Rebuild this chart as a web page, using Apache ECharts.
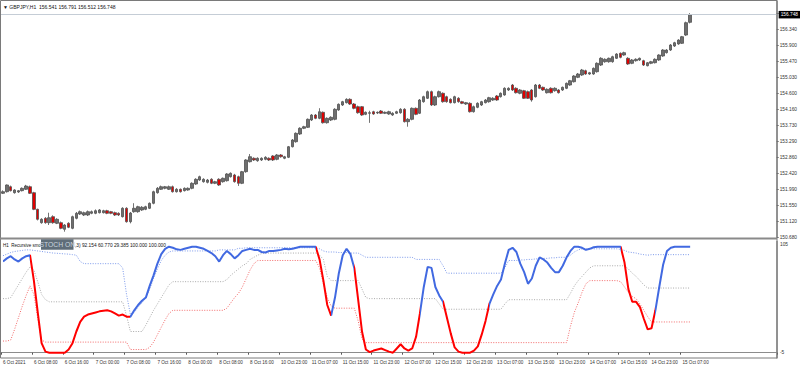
<!DOCTYPE html>
<html><head><meta charset="utf-8">
<script src="https://cdn.jsdelivr.net/npm/echarts@6/dist/echarts.min.js"></script>
<style>html,body{margin:0;padding:0;background:#fff}#c{width:800px;height:369px}</style>
</head><body><div id="c"></div>
<script>
// ---- bar sessions (start time, number of hourly bars) ----
const sessions = [[2021, 9, 6, 0, 72], [2021, 9, 10, 23, 107]];
const totalSlots = 201;   // bars + empty right margin (chart shift)

// ---- OHLC ----
const open = [151.880,151.923,152.059,151.896,151.915,151.951,151.989,152.059,151.896,151.443,
151.078,151.198,151.078,151.242,151.062,151.078,150.898,151.062,150.925,151.198,
151.315,151.288,151.288,151.334,151.334,151.351,151.351,151.405,151.378,151.351,
151.334,151.242,151.471,151.105,151.378,151.378,151.425,151.443,151.471,151.607,
151.896,151.989,152.016,151.989,152.059,151.923,151.989,151.951,151.970,152.016,
152.133,152.242,152.196,152.179,152.261,152.152,152.261,152.196,152.223,152.332,
152.379,152.332,152.152,152.469,152.741,152.834,152.768,152.788,152.807,152.834,
152.897,152.807,152.924,152.834,152.861,153.150,153.286,153.496,153.652,153.679,
153.878,154.014,153.924,154.088,153.804,153.878,153.897,154.151,154.287,154.350,
154.442,154.314,154.241,154.241,154.033,154.061,154.104,154.069,154.123,154.061,
154.042,154.014,154.061,154.077,154.170,153.832,153.897,154.197,154.061,154.377,
154.470,154.650,154.287,154.513,154.606,154.513,154.442,154.350,154.470,154.377,
154.314,154.333,154.104,154.224,154.287,154.350,154.377,154.423,154.532,154.513,
154.560,154.696,154.832,154.742,154.606,154.677,154.650,154.696,154.513,154.832,
154.769,154.622,154.742,154.677,154.696,154.696,154.742,154.832,154.922,155.042,
155.105,155.222,155.132,155.132,155.195,155.377,155.467,155.467,155.467,155.560,
155.696,155.650,155.560,155.424,155.495,155.514,155.495,155.358,155.424,155.440,
155.514,155.623,155.713,155.786,155.895,155.950,155.969,156.195,156.541];
const high = [151.96,152.12,152.09,151.99,151.97,152.04,152.11,152.09,151.92,151.46,
151.20,151.23,151.35,151.28,151.20,151.11,151.04,151.09,151.27,151.37,
151.41,151.38,151.41,151.41,151.44,151.45,151.43,151.43,151.40,151.38,
151.36,151.50,151.50,151.37,151.61,151.54,151.53,151.54,151.63,151.95,
152.05,152.09,152.08,152.09,152.09,152.02,152.01,152.04,152.04,152.18,
152.29,152.36,152.29,152.27,152.29,152.22,152.29,152.31,152.43,152.45,
152.41,152.36,152.49,152.81,152.95,152.86,152.86,152.86,152.89,152.86,
152.92,152.95,152.95,152.90,153.17,153.36,153.54,153.68,153.72,153.92,
154.04,154.04,154.20,154.11,153.95,153.98,154.20,154.33,154.40,154.47,
154.47,154.34,154.27,154.26,154.11,154.13,154.13,154.11,154.15,154.11,
154.13,154.09,154.13,154.20,154.20,153.93,154.22,154.22,154.45,154.54,
154.68,154.68,154.54,154.68,154.63,154.54,154.47,154.54,154.50,154.40,
154.37,154.36,154.27,154.36,154.40,154.45,154.51,154.50,154.56,154.63,
154.77,154.77,154.86,154.77,154.72,154.70,154.68,154.72,154.86,154.86,
154.79,154.74,154.77,154.77,154.72,154.79,154.90,154.97,155.10,155.16,
155.27,155.25,155.19,155.31,155.45,155.59,155.56,155.58,155.63,155.70,
155.72,155.74,155.59,155.54,155.56,155.58,155.52,155.46,155.49,155.56,
155.67,155.81,155.81,155.95,156.01,156.08,156.17,156.56,156.791];
const low = [151.86,151.90,151.93,151.87,151.89,151.93,151.97,151.86,151.42,151.14,
151.05,151.05,151.015,151.05,151.04,150.90,150.833,150.93,150.90,151.17,
151.29,151.26,151.26,151.31,151.31,151.33,151.33,151.31,151.31,151.26,
151.26,151.22,151.08,151.06,151.35,151.35,151.40,151.42,151.45,151.58,
151.87,151.97,151.99,151.97,151.90,151.90,151.90,151.93,151.95,151.99,
152.11,152.22,152.17,152.15,152.13,152.13,152.08,152.17,152.20,152.31,
152.17,152.08,152.13,152.44,152.72,152.76,152.74,152.76,152.78,152.76,
152.76,152.78,152.85,152.81,152.84,153.13,153.26,153.47,153.63,153.66,
153.85,153.90,153.90,153.78,153.78,153.85,153.87,154.13,154.26,154.33,
154.29,154.17,154.05,153.99,154.01,153.80,154.02,154.04,154.04,154.04,
154.02,153.99,154.04,154.05,153.81,153.695,153.87,154.01,154.04,154.35,
154.45,154.26,154.26,154.49,154.35,154.35,154.33,154.33,154.35,154.31,
154.29,154.08,154.08,154.20,154.26,154.33,154.35,154.40,154.40,154.49,
154.54,154.67,154.67,154.60,154.58,154.45,154.45,154.377,154.49,154.72,
154.67,154.60,154.60,154.65,154.60,154.67,154.72,154.81,154.90,155.02,
155.08,155.11,155.11,155.11,155.17,155.35,155.44,155.44,155.44,155.54,
155.56,155.63,155.38,155.40,155.47,155.49,155.35,155.34,155.40,155.42,
155.49,155.60,155.69,155.76,155.87,155.93,155.95,156.17,156.512];
const close = [151.923,152.106,151.951,151.970,151.951,152.016,152.078,151.880,151.443,151.171,
151.171,151.078,151.214,151.078,151.171,150.925,151.015,150.953,151.242,151.334,
151.378,151.351,151.378,151.378,151.405,151.425,151.405,151.334,151.334,151.288,
151.288,151.471,151.105,151.342,151.471,151.514,151.498,151.514,151.607,151.923,
152.016,152.059,152.059,152.059,151.923,151.989,151.923,152.016,152.016,152.152,
152.261,152.332,152.261,152.242,152.152,152.196,152.106,152.289,152.406,152.425,
152.196,152.152,152.469,152.788,152.877,152.788,152.834,152.834,152.861,152.788,
152.788,152.924,152.877,152.877,153.150,153.333,153.515,153.652,153.695,153.897,
154.014,153.924,154.104,153.804,153.924,153.952,154.170,154.306,154.377,154.442,
154.314,154.197,154.077,154.014,154.088,154.077,154.042,154.088,154.061,154.088,
154.104,154.061,154.104,154.170,153.832,153.897,154.197,154.033,154.423,154.513,
154.650,154.287,154.513,154.650,154.377,154.377,154.350,154.513,154.377,154.333,
154.350,154.104,154.241,154.333,154.377,154.423,154.486,154.470,154.423,154.606,
154.742,154.742,154.696,154.622,154.696,154.470,154.470,154.423,154.832,154.742,
154.696,154.715,154.622,154.742,154.622,154.769,154.878,154.949,155.077,155.132,
155.241,155.132,155.167,155.287,155.424,155.560,155.533,155.560,155.604,155.677,
155.587,155.713,155.405,155.514,155.533,155.560,155.377,155.440,155.467,155.533,
155.650,155.786,155.786,155.923,155.985,156.059,156.149,156.531,156.748];

// ---- indicator ----
const osc = [86,89,91,88,86,89,91,92,68,38,
9,1,0,0,0,0,0,3,9,20,
29,34,36,37,38,39,39.5,40,39,37,
35,36,34,34,40,45,49,52,63,73,
84,93,98,100,99,97.5,97,98,99,100,
100,99,98,96,94,91,86,92,96,93,
89,92,96,97,98,97,97,95,94.5,96,
96,96.5,97,98,97.5,98,99,100,100,100,
100,100,88,68,45,35,52,75,92,98,
93,80,50,20,3,0.5,2,3,4,2.5,
1,0,4,8,4,2,4,15,37,62,
81,80,62,54,48,33,18,5,1,0,
0,0,2,6,17,30,46,55,63,69,
84,97,99,95,84,76,65,70,82,90,
88,85,80,76,76,82,90,96,100,100,
99,97,98,99.5,100,100,100,100,100,100,
100,85,60,48,48,43,32,22,23,40,
62,83,96,99,100,100,100,100,100];
const upperBand = [91.5,93,94.5,95.5,96,96.5,97,97,96.5,96,
95.5,95,94.5,94,93.8,93.5,93.2,93,92.5,92,
86,84,84,84,84,84,84,84,84,84,
84,80,55,36,38,43,47,52,60,70,
79,87,92,95,96,96,96,96,96,96,
96,96,96,96,96,96,97,97,97,97,
97,98.5,98.5,99,99,99,99,99,99,99,
99,99,99,99,99,99,99,99,99,99,
99,99,98,96,95,95,95,94.5,94.5,94.5,
94,94,94,92,90,90,90,90,90,90,
90,90,90,90,90,90,90,88,88,88,
88,88,88,88,82,75,75,75,75,75,
75,75,75,75,75,75,75,75,75,75,
80,87,87,87,87.5,87.5,88,88,88.5,88.5,
89,89,89.5,89.5,90,90,90,92,95,97,
98,98,98,98,98,98,98,98,98,98,
97.5,96.5,95,94.5,94,93,92.5,92,92.5,92.5,
92.5,92.5,92.5,92.5,92.5,92.5,92.5,92.5,92.5];
const midBand = [51,51,52,58,64,70,76,81,78,67,
55,50,48,48,48,48,48,48,48,48,
48,48,48,48,48,48,48,48,48,48,
48,48,35,20,20,20,20,26,33,40,
46,52,58,64,67,67,67,67,67,67,
67,67,67,67,67,67,67,67,69,73,
76,79,82,84,88,90,92,93.5,94,94,
94,94,94,94,94,94,94,94,94,94,
94,94,92,88,72,68,68,68,68,68,
68,68,68,60,52,51,51,51,51,51,
51,51,51,51,51,51,51,51,51,51,
51,51,51,46,41,41,41,41,41,41,
41,41,41,41,41,41,41,41,41,41,
46,50,50,50,50,50,50,50,50,50,
50,50,50,50,50,50,50,56,63,68,
72,76,80,82,82,82,82,82,82,82,
82,82,79,75,72,68,64,61,61,61,
61,61,61,61,61,61,61,61,61];
const lowerBand = [11,11,12,22,33,44,54,63,55,32,
12,10,10,10,10,10,10,10,10,10,
10,10,10,10,10,10,10,10,10,10,
10,10,10,3,3,3,3,3,5,10,
17,24,31,37,40,40,40,40,40,40,
40,40,40,40,40,40,40,40,42,47,
52,56,62,70,78,84,87,87,87,87,
87,87,87,87,87,87,87,87,87,87,
87,87,80,65,52,44,42,42,42,42,
42,42,30,13,9.5,9.5,9.5,9.5,9.5,9.5,
9.5,9.5,9.5,9.5,9.5,9.5,9.5,9.5,9.5,9.5,
9.5,9.5,9.5,9.5,9.5,9.5,9.5,9.5,9.5,9.5,
9.5,9.5,9.5,9.5,9.5,9.5,9.5,9.5,9.5,9.5,
9.5,9.5,9.5,9.5,9.5,9.5,9.5,9.5,9.5,9.5,
9.5,9.5,9.5,9.5,9.5,9.5,9.5,25,38,47,
57,65,68,68,68,68,68,68,68,68,
67,62,57,53,51,46,40,34,29,29,
29,29,29,29,29,29,29,29,29];
// colour state of the main line: [fromBar, toBar, state]
const oscSegments = [[0,7,'up'],[7,33,'down'],[33,81.2,'up'],[81.2,85,'down'],[85,91.2,'up'],
  [91.2,108,'down'],[108,114,'up'],[114,125.5,'down'],[125.5,159.8,'up'],[159.8,169.4,'down'],[169.4,179,'up']];

// ---- texts / ticks ----
const timeTickLabels = ['6 Oct 2021','6 Oct 08:00','6 Oct 16:00','7 Oct 00:00','7 Oct 08:00','7 Oct 16:00',
  '8 Oct 00:00','8 Oct 08:00','8 Oct 16:00','10 Oct 23:00','11 Oct 07:00','11 Oct 15:00','11 Oct 23:00',
  '12 Oct 07:00','12 Oct 15:00','12 Oct 23:00','13 Oct 07:00','13 Oct 15:00','13 Oct 23:00',
  '14 Oct 07:00','14 Oct 15:00','14 Oct 23:00','15 Oct 07:00'];
const timeTickStep = 8;
const priceTickLabels = ['150.680','151.120','151.550','151.990','152.420','152.860','153.290',
  '153.730','154.160','154.600','155.030','155.470','155.900','156.340'];
const lastPrice = 156.748;
const titleText = '\u25BC GBPJPY,H1  156.541 156.791 156.512 156.748';
const indNameLeft = 'H1  Recursive smo';
const indButton = 'STOCH ON';
const indNameRight = ',3) 92.154 60.770 29.385 100.000 100.000';
const indMax = 105, indMin = -5;

// ---- build ----
const pad = n => (n < 10 ? '0' : '') + n;
const cats = [];
sessions.forEach(s => {
  for (let k = 0; k < s[4]; k++) {
    const d = new Date(Date.UTC(s[0], s[1], s[2], s[3] + k));
    cats.push(d.getUTCFullYear() + '.' + pad(d.getUTCMonth() + 1) + '.' + pad(d.getUTCDate()) + ' ' + pad(d.getUTCHours()) + ':00');
  }
});
const nBars = cats.length;
while (cats.length < totalSlots) cats.push('');
const candles = open.map((o, i) => [o, close[i], low[i], high[i]]);

const pMin = 150.68, pTop = 156.34;
const pInterval = (pTop - pMin) / (priceTickLabels.length - 1);
const FONT = 'Liberation Sans';
const isTick = idx => idx % timeTickStep === 0 && idx < nBars;
const UP = '#4169e1', DN = '#ff0000';

const chart = echarts.init(document.getElementById('c'), null, {renderer: 'svg'});
chart.setOption({
  animation: false,
  backgroundColor: '#fff',
  textStyle: {fontFamily: FONT},
  grid: [
    {left: 1, top: 1, width: 776, height: 236.3},
    {left: 1, top: 241.4, width: 776, height: 116.6}
  ],
  xAxis: [
    {type: 'category', gridIndex: 0, data: cats, boundaryGap: true,
      axisLine: {show: false}, axisTick: {show: false}, axisLabel: {show: false}, splitLine: {show: false}},
    {type: 'category', gridIndex: 1, data: cats, boundaryGap: true,
      axisLine: {show: true, lineStyle: {color: '#8c8c8c', width: 1}},
      axisTick: {show: true, interval: isTick, length: 2, lineStyle: {color: '#555'}},
      axisLabel: {show: true, interval: isTick, fontSize: 4.6, color: '#333', align: 'left', margin: 1.5,
        fontFamily: FONT, formatter: (v, idx) => timeTickLabels[idx / timeTickStep] || ''},
      splitLine: {show: false}}
  ],
  yAxis: [
    {type: 'value', gridIndex: 0, position: 'right', min: pMin, max: pMin + 236.3 * (pTop - pMin) / 207.6,
      interval: pInterval, scale: true,
      axisLine: {show: true, lineStyle: {color: '#8c8c8c', width: 1.5}},
      axisTick: {show: true, length: 2, lineStyle: {color: '#666'}},
      axisLabel: {show: true, fontSize: 4.8, color: '#333', margin: 3, fontFamily: FONT, showMaxLabel: false,
        formatter: v => { const k = Math.round((v - pMin) / pInterval);
          return (k >= 0 && k < priceTickLabels.length && Math.abs(pMin + k * pInterval - v) < 1e-6) ? priceTickLabels[k] : ''; }},
      splitLine: {show: false}},
    {type: 'value', gridIndex: 1, position: 'right', min: indMin, max: indMax, interval: indMax - indMin,
      axisLine: {show: true, lineStyle: {color: '#8c8c8c', width: 1.5}},
      axisTick: {show: false},
      axisLabel: {show: true, fontSize: 4.8, color: '#333', margin: 3, verticalAlign: 'top', padding: [1, 0, 0, 0],
        showMinLabel: false, showMaxLabel: true, fontFamily: FONT, formatter: v => (v === indMax ? String(indMax) : '')},
      splitLine: {show: false}},
    {type: 'value', gridIndex: 1, position: 'right', min: indMin, max: indMax, interval: indMax - indMin,
      axisLine: {show: false}, axisTick: {show: false},
      axisLabel: {show: true, fontSize: 4.8, color: '#333', margin: 3, verticalAlign: 'bottom', padding: [0, 0, 3, 0],
        showMinLabel: true, showMaxLabel: false, fontFamily: FONT, formatter: v => (v === indMin ? String(indMin) : '')},
      splitLine: {show: false}}
  ],
  visualMap: [{
    show: false, type: 'piecewise', seriesIndex: 4, dimension: 0,
    pieces: oscSegments.map((s, k) => (k === oscSegments.length - 1
      ? {gte: s[0], lte: s[1] + 50, color: s[2] === 'up' ? UP : DN}
      : {gte: s[0], lt: s[1], color: s[2] === 'up' ? UP : DN}))
  }],
  series: [
    {type: 'candlestick', xAxisIndex: 0, yAxisIndex: 0, data: candles, barWidth: 3,
      itemStyle: {color: '#6e6e6e', color0: '#e00000', borderColor: '#505050', borderColor0: '#505050', borderWidth: 0.8},
      markLine: {silent: true, symbol: ['none', 'none'], animation: false,
        lineStyle: {color: '#c5cdd6', width: 1, type: 'solid'},
        label: {show: true, position: 'end', formatter: lastPrice.toFixed(3), color: '#fff', backgroundColor: '#000',
          fontSize: 4.8, padding: [1.5, 2, 1, 2], distance: 2, fontFamily: FONT},
        data: [{yAxis: lastPrice}]}},
    {type: 'line', xAxisIndex: 1, yAxisIndex: 1, data: upperBand, symbol: 'none',
      lineStyle: {color: '#7b98ea', width: 1, type: [1, 1.5]}},
    {type: 'line', xAxisIndex: 1, yAxisIndex: 1, data: midBand, symbol: 'none',
      lineStyle: {color: '#a9a9a9', width: 1, type: [1, 1.5]}},
    {type: 'line', xAxisIndex: 1, yAxisIndex: 1, data: lowerBand, symbol: 'none',
      lineStyle: {color: '#f26a6a', width: 1, type: [1, 1.5]}},
    {type: 'line', xAxisIndex: 1, yAxisIndex: 1, data: osc, symbol: 'none',
      lineStyle: {width: 2}}
  ],
  graphic: [
    {type: 'rect', shape: {x: 0.5, y: 0.5, width: 776.5, height: 357.5}, style: {fill: 'none', stroke: '#7a7a7a', lineWidth: 1}, z: 10},
    {type: 'rect', shape: {x: 0, y: 237.6, width: 777, height: 2}, style: {fill: '#8a8a8a'}, z: 10},
    {type: 'text', x: 3, y: 7, style: {text: titleText, fontSize: 5, fill: '#111', fontFamily: FONT, verticalAlign: 'middle'}, z: 11},
    {type: 'text', x: 3, y: 245, style: {text: indNameLeft, fontSize: 4.5, fill: '#111', fontFamily: FONT, verticalAlign: 'middle'}, z: 11},
    {type: 'text', x: 75, y: 245, style: {text: indNameRight, fontSize: 4.8, fill: '#111', fontFamily: FONT, verticalAlign: 'middle'}, z: 11},
    {type: 'rect', shape: {x: 41, y: 239.3, width: 32.5, height: 10.5}, style: {fill: '#5f6d79'}, z: 12},
    {type: 'text', x: 57.25, y: 244.6, z: 13,
      style: {text: indButton, fontSize: 6.8, fill: '#c9d5df', fontFamily: FONT, align: 'center', verticalAlign: 'middle'}}
  ]
});
</script>
</body></html>
